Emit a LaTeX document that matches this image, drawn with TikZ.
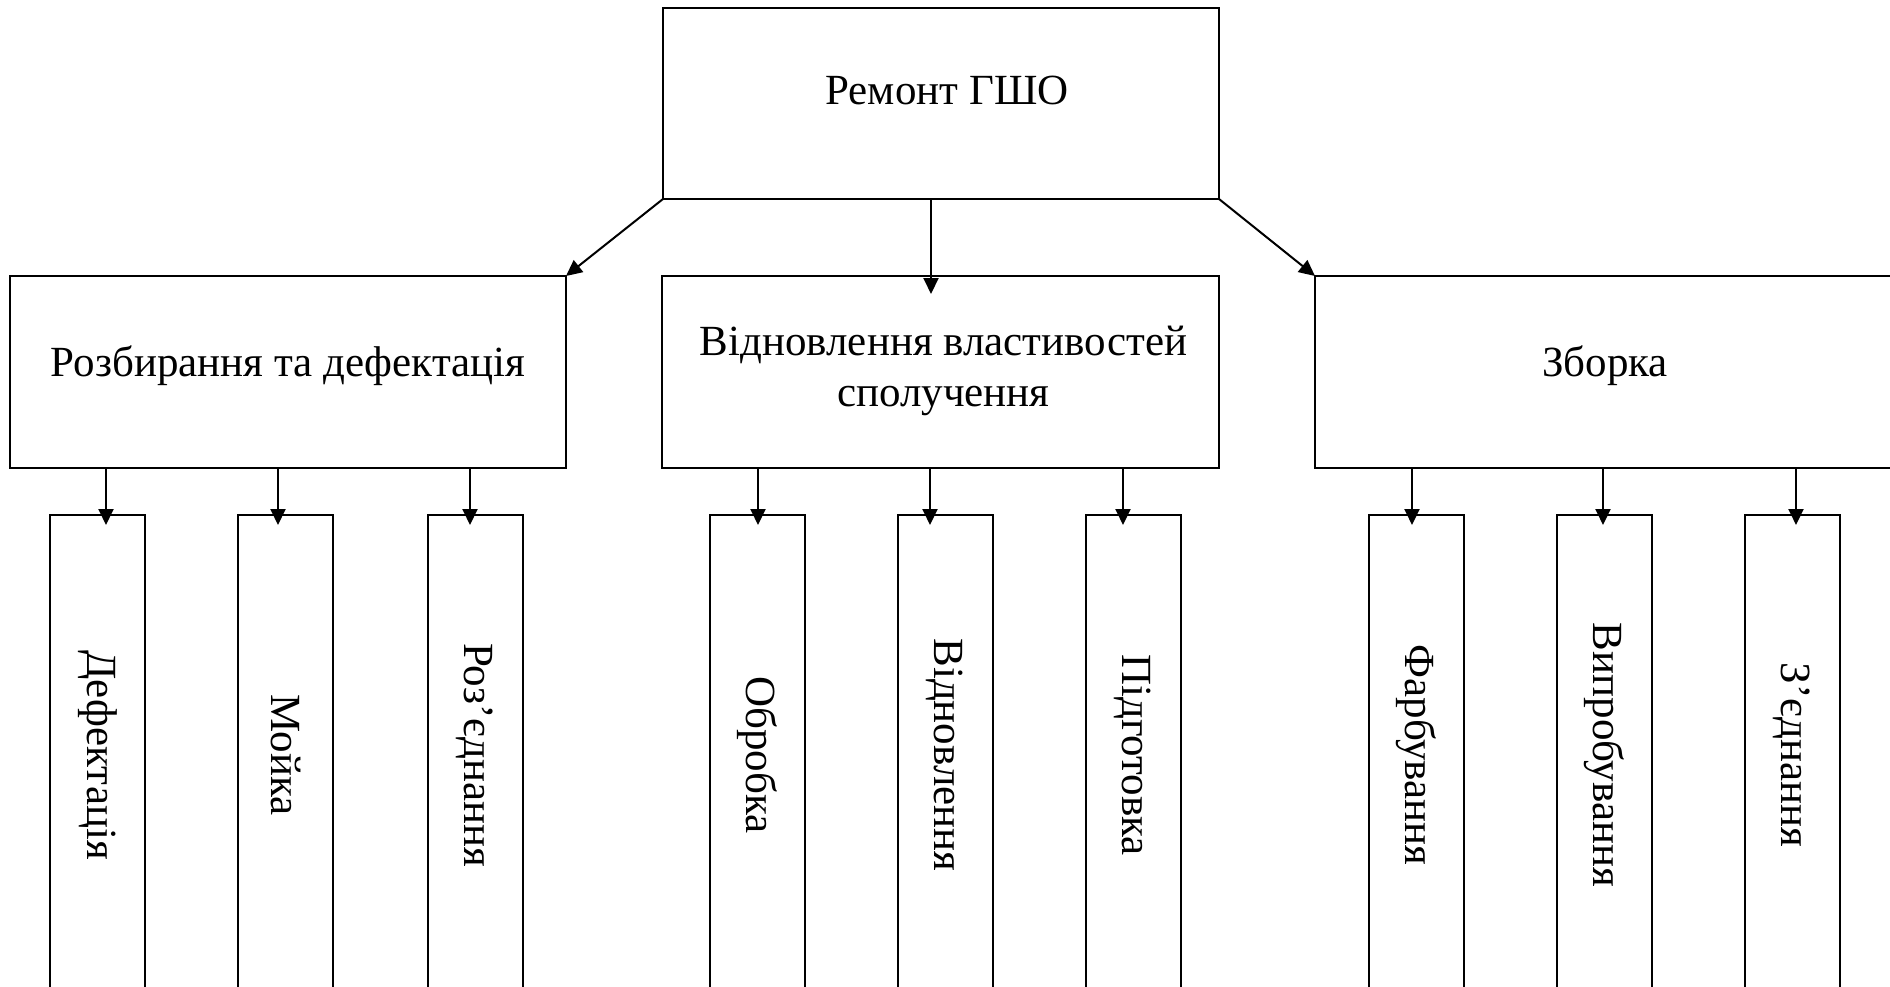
\documentclass[tikz,border=0pt]{standalone}
\usepackage{fontspec}
\setmainfont{Liberation Serif}
\usetikzlibrary{arrows.meta}
\newcommand{\textsz}{\fontsize{43}{51}\selectfont}

\begin{document}
\begin{tikzpicture}[x=1pt,y=-1pt,font=\textsz,
    box/.style={draw, line width=2pt, inner sep=0pt, outer sep=0pt, align=center},
    wide/.style={box, minimum width=556pt, minimum height=192pt},
    tall/.style={box, minimum width=95pt, minimum height=480pt},
    arr/.style={line width=2pt, -{Triangle[length=16pt,width=15pt]}}]
\useasboundingbox (0,0) rectangle (1890,987);
\clip (0,0) rectangle (1890,987);

% top
\node (remont) at (941,103.5) [wide, minimum height=191pt, label={[xshift=6pt,yshift=13pt]center:Ремонт ГШО}] {};

% second row
\node (rozb) at (288,372) [wide, label={[yshift=6pt]center:Розбирання та дефектація}] {};
\node (vidn) at (940.5,372) [wide, minimum width=557pt, label={[xshift=3pt,yshift=1pt,align=center]center:Відновлення властивостей\\сполучення}] {};
\node (zbirka) at (1605,372) [wide, minimum width=580pt, label={[yshift=6pt]center:Зборка}] {};

% third row
\node (defekt) at (97.5,755) [tall] {\rotatebox{-90}{Дефектація}};
\node (mojka) at (285.7,755) [tall] {\rotatebox{-90}{Мойка}};
\node (rozjed) at (475,755) [tall] {\rotatebox{-90}{Роз’єднання}};
\node (obrob) at (757,755) [tall] {\rotatebox{-90}{Обробка}};
\node (vidnov) at (945,755) [tall] {\rotatebox{-90}{Відновлення}};
\node (pidgot) at (1133,755) [tall] {\rotatebox{-90}{Підготовка}};
\node (farb) at (1416,755) [tall] {\rotatebox{-90}{Фарбування}};
\node (vypr) at (1604,755) [tall] {\rotatebox{-90}{Випробування}};
\node (zjed) at (1792,755) [tall] {\rotatebox{-90}{З’єднання}};

\draw[arr] (remont.south west) -- (rozb.north east);
\draw[arr] (remont.south east) -- (zbirka.north west);
\draw[arr, shorten >=-18pt] ([xshift=-10pt]remont.south) -- ([xshift=-10pt]remont.south |- vidn.north);

\foreach \kid/\dad/\dx in {defekt/rozb/8.5, mojka/rozb/-7.7, rozjed/rozb/-5,
    obrob/vidn/1, vidnov/vidn/-15, pidgot/vidn/-10,
    farb/zbirka/-4, vypr/zbirka/-1, zjed/zbirka/4}
  \draw[arr, shorten >=-10pt] ([xshift=\dx pt]\kid.north |- \dad.south) -- ([xshift=\dx pt]\kid.north);

\end{tikzpicture}
\end{document}
